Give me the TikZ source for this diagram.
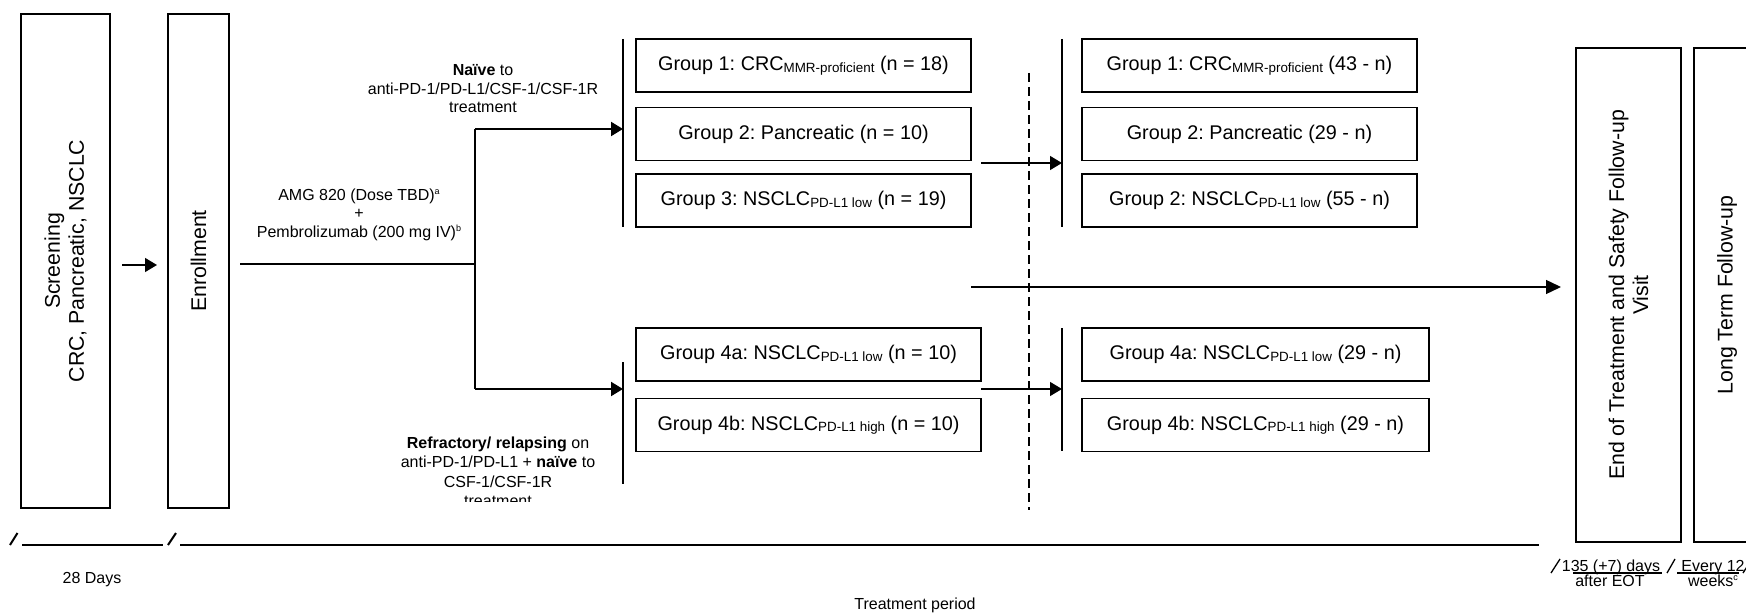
\documentclass[tikz,border=0pt]{standalone}
\usepackage{fontspec}
\setmainfont{Liberation Sans}
\usetikzlibrary{arrows.meta}
\newcommand{\lsub}[1]{{\fontsize{13.4}{14}\selectfont\raisebox{-1.5pt}{#1}}}
\newcommand{\tsup}[1]{\raisebox{6pt}{\fontsize{9}{9}\selectfont #1}}
\frenchspacing
\begin{document}
\begin{tikzpicture}[x=1pt,y=-1pt,
  frame/.style={draw, line width=2pt, inner sep=0pt, align=center, rotate=90, font=\fontsize{21.3}{24}\selectfont},
  grp/.style={draw, line width=1.8pt, inner sep=0pt, minimum height=53pt, font=\fontsize{19.8}{22}\selectfont},
  note/.style={inner sep=0pt, align=center, font=\fontsize{16}{18.5}\selectfont},
  heavy/.style={line width=2pt},
  thinline/.style={line width=1.3pt},
  arr/.style={-{Triangle[length=12pt,width=14pt]}},
  bigarr/.style={-{Triangle[length=15pt,width=14pt]}},
]
\useasboundingbox (0,0) rectangle (1746,615);
\clip (0,0) rectangle (1746,615);

% tall boxes
\node[frame, minimum width=494pt, minimum height=89pt] (scr) at (65.5,261) {Screening\\CRC, Pancreatic, NSCLC};
\node[frame, minimum width=494pt, minimum height=61pt] (enr) at (198.5,261) {Enrollment};
\node[frame, minimum width=494pt, minimum height=105pt] (eot) at (1628.5,295) {End of Treatment and Safety Follow-up\\Visit};
\node[frame, minimum width=494pt, minimum height=66pt] (ltf) at (1727,295) {Long Term Follow-up};

% group boxes, left
\node[grp, minimum width=335pt] (g1) at (803.5,65.5) {Group 1: CRC\lsub{MMR-proficient} (n = 18)};
\node[grp, minimum width=335pt] (g2) at (803.5,134) {Group 2: Pancreatic (n = 10)};
\node[grp, minimum width=335pt] (g3) at (803.5,200.5) {Group 3: NSCLC\lsub{PD-L1 low} (n = 19)};
\node[grp, minimum width=345pt] (g4a) at (808.5,354.5) {Group 4a: NSCLC\lsub{PD-L1 low} (n = 10)};
\node[grp, minimum width=345pt] (g4b) at (808.5,425) {Group 4b: NSCLC\lsub{PD-L1 high} (n = 10)};
% group boxes, right
\node[grp, minimum width=335pt] (h1) at (1249.5,65.5) {Group 1: CRC\lsub{MMR-proficient} (43 - n)};
\node[grp, minimum width=335pt] (h2) at (1249.5,134) {Group 2: Pancreatic (29 - n)};
\node[grp, minimum width=335pt] (h3) at (1249.5,200.5) {Group 2: NSCLC\lsub{PD-L1 low} (55 - n)};
\node[grp, minimum width=347pt] (h4a) at (1255.5,354.5) {Group 4a: NSCLC\lsub{PD-L1 low} (29 - n)};
\node[grp, minimum width=347pt] (h4b) at (1255.5,425) {Group 4b: NSCLC\lsub{PD-L1 high} (29 - n)};

% bracket bars
\coordinate (bl1t) at (623,39);  \coordinate (bl1b) at (623,227);
\coordinate (bl2t) at (623,362); \coordinate (bl2b) at (623,484);
\coordinate (br1t) at (1062,39);  \coordinate (br1b) at (1062,227);
\coordinate (br2t) at (1062,328); \coordinate (br2b) at (1062,451);
\draw[heavy] (bl1t) -- (bl1b);
\draw[heavy] (bl2t) -- (bl2b);
\draw[heavy] (br1t) -- (br1b);
\draw[heavy] (br2t) -- (br2b);

% junction
\coordinate (jn) at (475,264);
\coordinate (jt) at (475,129);
\coordinate (jb) at (475,389);
\draw[thinline, arr, shorten <=11pt, shorten >=10pt] ([yshift=-4pt]scr.south) -- ([yshift=-4pt]enr.north);
\draw[heavy, shorten <=10pt] (enr.south |- jn) -- (jn);
\draw[heavy] (jt) -- (jb);
\draw[heavy, arr] (jt) -- (jt -| bl1t);
\draw[heavy, arr] (jb) -- (jb -| bl2t);

% arrows between columns
\coordinate (a1) at (981,163);
\coordinate (a2) at (981,389);
\coordinate (la) at (971,287);
\draw[thinline, arr] (a1) -- (a1 -| br1t);
\draw[thinline, arr] (a2) -- (a2 -| br2t);
\draw[thinline, bigarr, shorten >=14pt] (la) -- (la -| eot.north);

% dashed divider
\coordinate (dt) at (1029,73);
\coordinate (db) at (1029,510);
\draw[heavy, dash pattern=on 9pt off 5pt] (dt) -- (db);

% annotations
\node[note, anchor=north] (naive) at (483,64.5) {\textbf{Naïve} to\\anti-PD-1/PD-L1/CSF-1/CSF-1R\\treatment};
\node[note, anchor=north] (amg) at (359,188.5) {AMG 820 (Dose TBD)\tsup{a}\\+\\Pembrolizumab (200 mg IV)\tsup{b}};
\begin{scope}
\clip (380,420) rectangle (620,501);
\node[note, anchor=north, font=\fontsize{16}{19.5}\selectfont] (refr) at (498,436.5) {\textbf{Refractory/ relapsing} on\\anti-PD-1/PD-L1 + \textbf{naïve} to\\CSF-1/CSF-1R\\treatment};
\end{scope}

% timeline
\coordinate (s1a) at (10,545); \coordinate (s1b) at (17.5,533);
\coordinate (t1a) at (22,545); \coordinate (t1b) at (163,545);
\coordinate (s2a) at (168,545); \coordinate (s2b) at (176,533);
\coordinate (t2a) at (180,545); \coordinate (t2b) at (1539,545);
\draw[heavy] (s1a) -- (s1b);
\draw[heavy] (t1a) -- (t1b);
\draw[heavy] (s2a) -- (s2b);
\draw[heavy] (t2a) -- (t2b);

\coordinate (s3a) at (1551,573); \coordinate (s3b) at (1560,559);
\coordinate (u1a) at (1573,573); \coordinate (u1b) at (1662,573);
\coordinate (s4a) at (1667,573); \coordinate (s4b) at (1675,559);
\coordinate (u2a) at (1677,573); \coordinate (u2b) at (1739,573);
\coordinate (s5a) at (1743,573); \coordinate (s5b) at (1752,559);
\draw[thinline] (s3a) -- (s3b);
\draw[thinline] (u1a) -- (u1b);
\draw[thinline] (s4a) -- (s4b);
\draw[thinline] (u2a) -- (u2b);
\draw[thinline] (s5a) -- (s5b);

\node[note, anchor=base] (days28) at (92,583) {28 Days};
\node[note, anchor=base] (tp) at (915,609) {Treatment period};
\node[note, anchor=base] (d135) at (1611,571) {135 (+7) days};
\node[note, anchor=base] (aeot) at (1610,586) {after EOT};
\node[note, anchor=base] (ev12) at (1713,571) {Every 12};
\node[note, anchor=base] (wks) at (1713,586) {weeks\tsup{c}};
\end{tikzpicture}
\end{document}
